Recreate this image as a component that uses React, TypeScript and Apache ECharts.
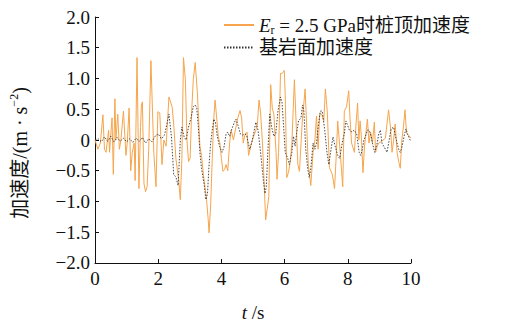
import React, { useEffect, useRef } from "react";
import * as echarts from "echarts";

const pileTime = [0, 0.09, 0.17, 0.25, 0.30, 0.35, 0.43, 0.46, 0.51, 0.54, 0.58, 0.63, 0.66, 0.72, 0.77, 0.82, 0.90, 0.98, 1.02, 1.08, 1.13, 1.18, 1.24, 1.27, 1.33, 1.39, 1.44, 1.47, 1.50, 1.55, 1.60, 1.65, 1.70, 1.77, 1.86, 1.93, 1.99, 2.05, 2.12, 2.18, 2.25, 2.34, 2.44, 2.49, 2.56, 2.65, 2.70, 2.75, 2.80, 2.86, 2.91, 2.96, 3.01, 3.06, 3.11, 3.17, 3.24, 3.32, 3.37, 3.43, 3.48, 3.53, 3.58, 3.61, 3.66, 3.71, 3.76, 3.80, 3.84, 3.90, 3.95, 4.00, 4.05, 4.10, 4.15, 4.20, 4.26, 4.31, 4.38, 4.44, 4.52, 4.59, 4.64, 4.69, 4.74, 4.81, 4.86, 4.93, 4.98, 5.09, 5.14, 5.19, 5.24, 5.30, 5.35, 5.40, 5.45, 5.50, 5.56, 5.61, 5.66, 5.73, 5.76, 5.81, 5.87, 5.92, 5.99, 6.02, 6.07, 6.12, 6.18, 6.23, 6.31, 6.37, 6.42, 6.47, 6.52, 6.56, 6.65, 6.70, 6.75, 6.83, 6.90, 6.96, 7.01, 7.06, 7.11, 7.17, 7.24, 7.29, 7.35, 7.42, 7.51, 7.58, 7.63, 7.68, 7.76, 7.84, 7.89, 7.96, 8.03, 8.07, 8.12, 8.21, 8.26, 8.31, 8.35, 8.39, 8.43, 8.48, 8.53, 8.62, 8.67, 8.72, 8.78, 8.84, 8.88, 8.93, 8.98, 9.08, 9.19, 9.24, 9.29, 9.35, 9.40, 9.45, 9.50, 9.56, 9.61, 9.66, 9.71, 9.76, 9.81, 9.86, 9.92, 10.0];
const pileAcc = [0, -0.15, -0.05, 0.41, -0.15, -0.2, 0.16, -0.2, 0.16, 0.36, -0.56, 0.67, 0.0, 0.42, -0.15, 0.0, 0.47, -0.25, -0.05, 0.52, -0.5, -0.2, -0.05, -0.66, 1.34, -0.79, 0.2, 0.57, 0.62, -0.71, -0.84, -0.76, -0.15, 1.29, -0.2, -0.76, 0.46, 0.44, -0.4, 0.0, -0.1, 0.70, 0.54, 0.26, -0.3, -0.66, -0.97, -0.3, 1.34, 0.98, 0.0, -0.35, -0.3, 0.47, 0.98, 1.26, 0.77, -0.1, -0.25, -0.56, -0.76, -0.97, -1.28, -1.51, -1.07, -0.3, 0.36, 0.65, 0.42, 0.06, -0.05, -0.3, -0.51, -0.48, -0.4, -0.5, -0.05, 0.16, 0.0, 0.16, 0.36, 0.48, 0.36, -0.05, 0.08, 0.13, -0.25, -0.1, 0.0, 0.16, 0.26, 0.65, 0.44, -0.05, -0.66, -1.30, -1.12, -0.92, 0.90, 0.52, 0.42, -0.2, -0.64, -0.2, 1.08, 1.08, 1.13, 0.72, -0.61, -0.53, -0.35, -0.05, 0.98, 0.21, -0.4, -0.51, -0.05, 0.31, 0.83, 0.21, -0.4, -0.74, -0.2, 0.0, 0.39, -0.15, 0.42, 0.42, 0.31, 0.83, 0.47, -0.45, -0.56, -0.79, -0.3, 0.31, -0.2, -0.76, 0.47, 0.54, 0.80, 0.36, -0.05, -0.2, 0.26, 0.60, 0.0, 0.31, 0.05, -0.53, -0.1, 0.34, -0.05, 0.13, -0.05, 0.29, -0.2, -0.1, -0.05, -0.02, 0.03, 0.26, 0.49, 0.21, -0.2, 0.0, 0.26, -0.2, -0.35, -0.46, 0.0, 0.21, 0.49, 0.11, 0.08, 0.03];

const rockTime = [0, 0.1, 0.2, 0.3, 0.4, 0.5, 0.6, 0.7, 0.8, 0.9, 1.0, 1.1, 1.2, 1.3, 1.4, 1.5, 1.6, 1.7, 1.8, 1.9, 2.0, 2.1, 2.2, 2.27, 2.34, 2.42, 2.49, 2.56, 2.63, 2.70, 2.75, 2.82, 2.88, 2.96, 3.04, 3.11, 3.17, 3.22, 3.27, 3.32, 3.37, 3.45, 3.51, 3.56, 3.61, 3.66, 3.71, 3.76, 3.81, 3.87, 3.94, 4.02, 4.08, 4.15, 4.20, 4.26, 4.33, 4.39, 4.46, 4.53, 4.60, 4.67, 4.74, 4.80, 4.85, 4.90, 4.98, 5.09, 5.16, 5.24, 5.33, 5.38, 5.42, 5.47, 5.53, 5.59, 5.66, 5.72, 5.79, 5.87, 5.92, 5.97, 6.02, 6.10, 6.15, 6.23, 6.28, 6.33, 6.38, 6.44, 6.52, 6.57, 6.61, 6.67, 6.73, 6.78, 6.83, 6.90, 6.96, 7.01, 7.06, 7.13, 7.19, 7.27, 7.34, 7.40, 7.47, 7.53, 7.60, 7.68, 7.74, 7.79, 7.84, 7.89, 7.94, 8.00, 8.05, 8.13, 8.20, 8.28, 8.36, 8.41, 8.46, 8.51, 8.57, 8.62, 8.67, 8.72, 8.78, 8.85, 8.93, 8.98, 9.03, 9.08, 9.19, 9.24, 9.31, 9.37, 9.45, 9.50, 9.56, 9.61, 9.66, 9.71, 9.79, 9.84, 9.89, 9.97, 10.0];
const rockAcc = [0, 0.02, -0.03, 0.05, -0.02, 0.06, -0.03, 0.04, -0.02, 0.03, -0.03, 0.02, -0.04, 0.03, -0.02, 0.04, -0.05, 0.02, -0.03, 0.06, 0.1, 0.02, 0.08, 0.25, 0.42, 0.05, -0.56, -0.6, -0.74, 0.0, 0.21, 0.05, 0.0, 0.21, 0.36, 0.54, 0.57, 0.52, 0.21, -0.2, -0.46, -0.71, -0.97, -0.87, -0.4, -0.05, 0.16, 0.34, 0.29, 0.06, -0.1, -0.2, -0.12, 0.1, 0.13, 0.06, 0.18, 0.26, 0.34, 0.23, 0.1, 0.08, 0.1, 0.08, -0.05, -0.15, 0.0, 0.29, 0.16, -0.2, -0.66, -0.87, -0.76, -0.2, 0.42, 0.21, 0.06, 0.1, 0.47, 0.70, 0.6, 0.21, -0.2, -0.3, -0.4, -0.2, 0.06, -0.1, 0.1, 0.31, 0.36, 0.57, 0.47, -0.15, -0.46, -0.61, -0.46, -0.05, -0.15, -0.05, 0.21, 0.47, 0.47, 0.16, -0.2, -0.4, -0.15, 0.05, -0.1, -0.25, -0.3, -0.15, 0.0, 0.1, 0.31, 0.23, 0.16, 0.13, 0.16, 0.1, -0.2, -0.25, -0.15, 0.0, 0.08, 0.16, 0.16, 0.1, -0.05, -0.2, -0.05, 0.1, 0.16, -0.05, -0.15, -0.2, 0.0, 0.18, 0.21, 0.08, -0.05, -0.15, -0.2, -0.12, 0.08, 0.18, 0.1, 0.0, -0.02];

const xTicks = [0, 2, 4, 6, 8, 10];
const yTicks = [-2, -1.5, -1, -0.5, 0, 0.5, 1, 1.5, 2];

const pileName = "Er = 2.5 GPa时桩顶加速度";
const rockName = "基岩面加速度";

const SERIF = "'Liberation Serif', 'Times New Roman', 'Noto Sans CJK SC', serif";

export default function App() {
  const ref = useRef<HTMLDivElement>(null);
  useEffect(() => {
    if (!ref.current) return;
    const chart = echarts.init(ref.current, null, { renderer: "svg" });
    const pileData = pileTime.map((t, i) => [t, pileAcc[i]]);
    const rockData = rockTime.map((t, i) => [t, rockAcc[i]]);
    const fmtY = (v: number) => {
      if (v === 0) return "0";
      const s = Math.abs(v).toFixed(1);
      return v < 0 ? "\u2212" + s : s;
    };
    chart.setOption({
      animation: false,
      backgroundColor: "#ffffff",
      grid: { left: 90, right: 97, top: 17, bottom: 50, containLabel: false },
      legend: {
        orient: "vertical",
        left: 218,
        top: 9,
        itemWidth: 30,
        itemHeight: 14,
        itemGap: 2,
        itemStyle: { opacity: 0 },
        data: [pileName, rockName],
        formatter: (name: string) =>
          name === pileName ? "{i|E}{s|r}{t| = 2.5 GPa时桩顶加速度}" : "{t|基岩面加速度}",
        textStyle: {
          fontFamily: SERIF,
          fontSize: 19,
          color: "#111",
          rich: {
            i: { fontFamily: SERIF, fontSize: 19, fontStyle: "italic", color: "#111", lineHeight: 22 },
            s: { fontFamily: SERIF, fontSize: 12, color: "#111", lineHeight: 12, padding: [10, 0, 0, 0] },
            t: { fontFamily: SERIF, fontSize: 19, color: "#111", lineHeight: 22 },
          },
        },
      },
      xAxis: {
        type: "value",
        min: xTicks[0],
        max: xTicks[xTicks.length - 1],
        interval: 2,
        name: "{i|t}{n| /s}",
        nameLocation: "middle",
        nameGap: 40,
        nameTextStyle: {
          rich: {
            i: { fontFamily: SERIF, fontSize: 19, fontStyle: "italic", color: "#111" },
            n: { fontFamily: SERIF, fontSize: 19, color: "#111" },
          },
        },
        axisLine: { show: true, onZero: false, lineStyle: { color: "#111", width: 1 } },
        axisTick: { show: true, inside: true, length: 4, lineStyle: { color: "#111" } },
        axisLabel: { fontFamily: SERIF, fontSize: 19, color: "#111", margin: 6 },
        splitLine: { show: false },
      },
      yAxis: {
        type: "value",
        min: yTicks[0],
        max: yTicks[yTicks.length - 1],
        interval: 0.5,
        name: "{t|加速度/(m · s}{p|−2}{t|)}",
        nameLocation: "middle",
        nameGap: 63,
        nameTextStyle: {
          padding: [0, 26, 0, 0],
          rich: {
            t: { fontFamily: SERIF, fontSize: 20, color: "#111", lineHeight: 24 },
            p: { fontFamily: SERIF, fontSize: 12, color: "#111", lineHeight: 12, padding: [0, 0, 12, 0] },
          },
        },
        axisLine: { show: true, onZero: false, lineStyle: { color: "#111", width: 1 } },
        axisTick: { show: true, inside: true, length: 4, lineStyle: { color: "#111" } },
        axisLabel: { fontFamily: SERIF, fontSize: 19, color: "#111", margin: 5, formatter: fmtY },
        splitLine: { show: false },
      },
      series: [
        {
          name: pileName,
          type: "line",
          data: pileData,
          showSymbol: false,
          symbol: "none",
          lineStyle: { color: "#F6A54C", width: 1 },
          itemStyle: { color: "#F6A54C" },
          z: 2,
        },
        {
          name: rockName,
          type: "line",
          data: rockData,
          showSymbol: false,
          symbol: "none",
          lineStyle: { color: "#333", width: 0.9, type: [1.5, 1.5] },
          itemStyle: { color: "#333" },
          z: 3,
        },
      ],
    });
    return () => chart.dispose();
  }, []);
  return <div ref={ref} style={{ position: "absolute", left: 0, top: 0, width: 508, height: 327 }} />;
}
